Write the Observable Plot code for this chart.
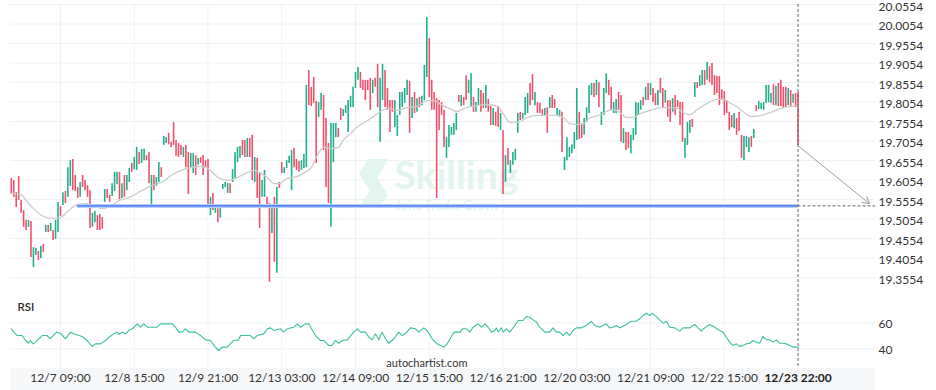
<!DOCTYPE html>
<html><head><meta charset="utf-8">
<script src="https://cdn.jsdelivr.net/npm/d3@7"></script>
<script src="https://cdn.jsdelivr.net/npm/@observablehq/plot@0.6"></script>
<style>
html,body{margin:0;padding:0;background:#fff;}
#chart{position:relative;width:936px;height:390px;font-family:Lato,sans-serif;overflow:hidden;background:#fff;}
#chart svg{position:absolute;left:0;}
#band{position:absolute;left:10px;top:368px;width:865px;height:22px;background:#f6f7f9;}
</style></head><body><div id="chart"><div id="band"></div></div>
<script>
// ---- data (hourly candles, index 0 = first visible hour) ----
const opens = [
19.609,19.604,19.573,19.614,19.553,19.527,19.502,19.484,19.499,19.381,
19.412,19.422,19.404,19.440,19.471,19.489,19.473,19.476,19.453,19.471,
19.537,19.540,19.576,19.561,19.589,19.658,19.617,19.586,19.561,19.617,
19.604,19.591,19.578,19.484,19.496,19.514,19.517,19.509,19.548,19.581,
19.566,19.563,19.576,19.594,19.625,19.558,19.617,19.578,19.599,19.648,
19.632,19.630,19.676,19.648,19.655,19.668,19.676,19.540,19.617,19.589,
19.599,19.637,19.694,19.699,19.725,19.702,19.753,19.707,19.699,19.694,
19.663,19.694,19.676,19.637,19.622,19.668,19.643,19.663,19.668,19.655,
19.658,19.514,19.571,19.520,19.532,19.507,19.581,19.586,19.571,19.596,
19.599,19.609,19.650,19.661,19.707,19.707,19.663,19.712,19.720,19.599,
19.661,19.622,19.561,19.561,19.561,19.545,19.468,19.561,19.366,19.599,
19.650,19.622,19.635,19.648,19.578,19.686,19.658,19.653,19.630,19.635,
19.637,19.886,19.843,19.868,19.807,19.766,19.784,19.822,19.763,19.699,
19.484,19.650,19.714,19.737,19.789,19.768,19.776,19.727,19.791,19.791,
19.840,19.861,19.881,19.861,19.861,19.861,19.866,19.827,19.866,19.902,
19.702,19.809,19.886,19.840,19.809,19.809,19.740,19.717,19.771,19.791,
19.802,19.822,19.858,19.763,19.830,19.779,19.817,19.796,19.809,19.868,
19.968,19.861,19.830,19.814,19.809,19.804,19.784,19.661,19.689,19.720,
19.720,19.732,19.822,19.794,19.817,19.873,19.827,19.791,19.817,19.779,
19.796,19.835,19.827,19.789,19.812,19.794,19.745,19.779,19.791,19.732,
19.732,19.599,19.686,19.622,19.643,19.655,19.725,19.779,19.761,19.771,
19.776,19.853,19.876,19.796,19.804,19.802,19.786,19.768,19.791,19.789,
19.822,19.812,19.771,19.766,19.779,19.630,19.655,19.663,19.673,19.684,
19.707,19.779,19.750,19.720,19.753,19.776,19.822,19.853,19.822,19.855,
19.745,19.771,19.827,19.861,19.843,19.776,19.776,19.830,19.822,19.699,
19.727,19.727,19.673,19.707,19.720,19.771,19.784,19.817,19.809,19.853,
19.822,19.840,19.827,19.796,19.866,19.840,19.802,19.809,19.809,19.779,
19.822,19.809,19.804,19.804,19.661,19.694,19.725,19.761,19.817,19.855,
19.845,19.848,19.886,19.861,19.896,19.904,19.873,19.871,19.871,19.837,
19.832,19.809,19.779,19.771,19.737,19.763,19.779,19.720,19.655,19.689,
19.676,19.717,19.712,19.796,19.786,19.786,19.784,19.802,19.804,19.802,
19.850,19.796,19.853,19.861,19.843,19.843,19.796,19.835,19.802,19.827,
19.830];
const closes = [
19.568,19.561,19.535,19.553,19.520,19.484,19.476,19.502,19.407,19.432,
19.430,19.399,19.435,19.420,19.489,19.471,19.494,19.450,19.502,19.548,
19.512,19.573,19.545,19.637,19.655,19.578,19.576,19.558,19.599,19.586,
19.578,19.561,19.481,19.520,19.525,19.476,19.476,19.479,19.581,19.558,
19.548,19.596,19.625,19.625,19.555,19.596,19.561,19.617,19.635,19.625,
19.663,19.689,19.645,19.684,19.684,19.655,19.596,19.617,19.578,19.612,
19.650,19.612,19.717,19.714,19.696,19.689,19.694,19.666,19.663,19.668,
19.689,19.637,19.568,19.673,19.673,19.617,19.661,19.648,19.617,19.635,
19.540,19.561,19.527,19.535,19.496,19.535,19.594,19.599,19.596,19.571,
19.632,19.676,19.689,19.691,19.668,19.663,19.712,19.663,19.604,19.663,
19.558,19.481,19.604,19.630,19.540,19.343,19.532,19.394,19.586,19.584,
19.622,19.637,19.655,19.666,19.681,19.637,19.630,19.625,19.655,19.671,
19.848,19.796,19.794,19.802,19.648,19.804,19.827,19.681,19.586,19.545,
19.750,19.750,19.750,19.714,19.758,19.786,19.796,19.809,19.820,19.843,
19.881,19.894,19.840,19.835,19.809,19.835,19.784,19.861,19.843,19.791,
19.866,19.902,19.791,19.784,19.727,19.779,19.809,19.771,19.830,19.830,
19.840,19.861,19.725,19.817,19.776,19.814,19.791,19.820,19.899,20.022,
19.817,19.784,19.784,19.558,19.732,19.771,19.689,19.714,19.745,19.740,
19.750,19.776,19.804,19.822,19.796,19.809,19.861,19.878,19.779,19.804,
19.840,19.779,19.789,19.848,19.779,19.745,19.789,19.743,19.740,19.776,
19.568,19.668,19.643,19.655,19.676,19.684,19.776,19.758,19.776,19.817,
19.827,19.796,19.809,19.830,19.776,19.776,19.771,19.789,19.725,19.817,
19.789,19.789,19.789,19.784,19.676,19.663,19.714,19.689,19.696,19.727,
19.840,19.709,19.712,19.763,19.791,19.848,19.853,19.817,19.861,19.791,
19.779,19.840,19.878,19.822,19.784,19.804,19.812,19.784,19.702,19.737,
19.681,19.686,19.720,19.737,19.804,19.802,19.809,19.796,19.843,19.809,
19.853,19.804,19.796,19.835,19.827,19.789,19.835,19.766,19.753,19.814,
19.771,19.791,19.745,19.702,19.712,19.753,19.758,19.740,19.855,19.840,
19.873,19.886,19.848,19.907,19.855,19.848,19.822,19.827,19.796,19.809,
19.771,19.776,19.732,19.740,19.776,19.720,19.730,19.661,19.717,19.717,
19.714,19.689,19.735,19.781,19.807,19.802,19.804,19.848,19.848,19.827,
19.796,19.845,19.794,19.794,19.789,19.791,19.840,19.791,19.825,19.791,
19.693];

// moving average: [candle index, price]
const maIndex = [0,4,6,9,13,17,20,23,27,31,34,37,40,44,48,53,57,61,65,69,73,77,80,84,88,91,95,99,101,104,107,109,112,115,118,122,124,127,130,133,135,138,141,145,149,153,157,161,165,169,172,174,179,181,185,189,193,198,200,203,206,210,214,218,222,225,227,230,233,235,240,243,245,248,250,253,256,260,264,268,271,273,276,279,283,287,290,292,295,298,301,305,309,313,317,320];
const maValue = [19.571,19.568,19.553,19.532,19.512,19.507,19.509,19.525,19.543,19.545,19.537,19.532,19.537,19.553,19.561,19.578,19.591,19.599,19.617,19.630,19.637,19.640,19.635,19.612,19.604,19.609,19.622,19.630,19.625,19.612,19.596,19.596,19.609,19.612,19.620,19.637,19.663,19.689,19.686,19.689,19.707,19.725,19.743,19.758,19.776,19.789,19.784,19.791,19.794,19.809,19.809,19.802,19.786,19.781,19.791,19.796,19.799,19.794,19.776,19.753,19.753,19.766,19.771,19.771,19.771,19.763,19.750,19.748,19.750,19.763,19.773,19.784,19.786,19.776,19.766,19.766,19.776,19.784,19.791,19.791,19.789,19.779,19.773,19.786,19.802,19.812,19.812,19.804,19.794,19.779,19.768,19.771,19.779,19.789,19.794,19.796];

// RSI: [candle index, RSI]
const rsiIndex = [0,1,2.4,4.4,5.8,7.1,7.8,8.8,9.8,11.2,12.6,14.6,15.7,17,18.4,20,22,24.1,25.4,27.5,28.8,30.8,32.9,34.2,36.3,38.3,39.7,41.7,43.1,43.7,45.1,46.4,47.8,49.2,51.2,52.5,53.9,55.3,59.3,60.7,65.4,66.8,68.1,69.5,70.8,72.2,74.9,77,79,81,83,84.4,85.8,87.8,90.5,92.5,93.2,97.3,98.6,100,102.7,104.1,105.4,106.8,109.5,110.8,112.2,114.9,116.3,117.6,119.6,121,123.7,125.7,127.1,129.1,130.5,131.8,133.2,134.6,136.6,139.3,140.7,142,144.1,145.4,146.8,148.1,149.5,150.8,152.2,153.5,155.6,157.6,159,160.3,162.3,164.4,165.7,167.8,169.1,171.2,173.2,174.5,175.9,177.3,180,182.7,183.4,185.1,186.5,187.8,189.8,191.2,192.6,193.9,195.3,196.6,197.3,198,199.3,200,201.4,202.7,204.8,206.1,208.1,209.5,210.9,212.2,213.6,214.9,217,219,220.3,221.7,223,224.4,225.8,227.1,228.5,229.8,231.9,233.9,235.9,237.3,239.3,240.7,242,243.4,244.7,246.1,247.5,249.5,250.8,252.2,254.2,255.6,256.9,258.3,259.7,260.7,262.4,263.7,265.1,266.4,267.8,269.8,271.9,273.2,275.9,278,279.3,280.7,282,284.1,286.1,288.1,289.5,290.8,292.2,293.5,294.9,296.3,297.6,299,300.3,301.7,303,304.4,305.7,307.1,308.5,309.8,311.2,312.5,313.9,315.2,316.6,317.9,320];
const rsiValue = [55.4,52.8,50.2,50.2,46.4,44.3,46.4,43.8,45.1,47.7,50.2,50.2,47.7,50.2,52.8,52.0,47.7,52.8,51.5,50.2,49.5,46.4,41.8,43.8,43.8,46.4,48.9,51.5,52.8,51.0,52.8,51.5,54.1,55.4,59.2,56.6,59.2,56.6,56.6,59.2,59.2,56.6,52.8,52.8,55.4,52.8,52.8,50.2,46.9,46.4,41.3,38.7,41.3,41.3,46.4,46.9,50.2,50.2,47.7,50.2,51.5,55.4,56.1,54.1,55.4,52.8,55.4,56.6,59.2,56.6,59.2,59.2,50.2,46.4,46.4,42.5,42.5,46.4,44.3,46.4,46.9,52.8,55.4,52.8,52.8,48.9,46.9,51.5,46.9,52.8,47.7,44.3,47.7,52.8,50.2,51.5,56.1,55.4,52.8,56.1,54.1,47.7,43.8,42.5,41.3,43.8,52.8,52.8,55.4,55.4,52.8,56.6,59.2,56.6,59.2,56.6,52.8,54.1,56.1,52.8,56.1,52.8,55.4,52.8,57.9,61.8,61.8,64.8,64.3,62.3,60.5,56.6,52.8,52.8,56.1,52.8,52.8,50.2,52.8,50.2,54.1,56.1,56.1,57.9,61.2,57.9,56.6,57.9,59.2,56.1,56.6,57.9,56.1,57.9,59.7,61.2,61.2,63.1,65.6,67.4,65.6,67.4,64.8,62.3,59.7,61.2,56.6,56.1,53.6,56.1,56.1,58.7,56.1,53.6,56.1,58.7,56.6,54.1,52.8,48.9,45.1,42.5,43.8,41.8,42.5,43.8,44.3,46.4,45.1,44.3,49.5,47.0,47.0,45.1,46.9,44.3,44.3,43.8,42.5,41.3,41.3];

const yTickValues = [19.3554,19.4054,19.4554,19.5054,19.5554,19.6054,19.6554,19.7054,19.7554,19.8054,19.8554,19.9054,19.9554,20.0054,20.0554];
const xTickIndex = [20,50,80,110,140,170,200,230,260,290];
const xTickLabels = ["12/7 09:00","12/8 15:00","12/9 21:00","12/13 03:00","12/14 09:00","12/15 15:00","12/16 21:00","12/20 03:00","12/21 09:00","12/22 15:00"];
const currentIndex = 320;
const currentLabel = "12/23 22:00";
const rsiTicks = [40, 60];
const supportLevel = 19.539;
const supportStartIndex = 27;
const forecastEndIndex = 349;
const forecastTarget = 19.545;

// ---- build ----
const GREEN = "#1fb08b", RED = "#f2506a", GRID = "#eef2f7", MINT = "#e2f5ef";
const xDomain = [-0.33, 351.5];
const candles = opens.map((o, i) => ({i, open: o, close: closes[i]}));
const ma = maIndex.map((i, k) => ({i, v: maValue[k]}));
const rsi = rsiIndex.map((i, k) => ({i, v: rsiValue[k]}));
const forecast = [{x1: currentIndex, y1: closes[currentIndex], x2: forecastEndIndex, y2: forecastTarget}];

const main = Plot.plot({
  width: 936, height: 298,
  marginLeft: 10, marginRight: 61, marginTop: 4, marginBottom: 0,
  style: {fontFamily: "Lato, sans-serif", background: "transparent", overflow: "visible"},
  x: {domain: xDomain, axis: null},
  y: {domain: [19.3554, 20.0554], range: [277, 4], axis: null},
  marks: [
    Plot.ruleY(yTickValues, {stroke: GRID}),
    Plot.ruleX(xTickIndex, {stroke: GRID}),
    Plot.text(["Skilling"], {frameAnchor: "top-left", dx: 384, dy: 184, textAnchor: "start", lineAnchor: "bottom", fontSize: 39, fontWeight: 700, fill: MINT}),
    Plot.text(["Join. Trade. Grow."], {frameAnchor: "top-left", dx: 385, dy: 205, textAnchor: "start", lineAnchor: "bottom", fontSize: 13, fontWeight: 700, fill: MINT}),
    Plot.ruleX(candles, {x: "i", y1: "open", y2: "close", stroke: d => d.close >= d.open ? GREEN : RED, strokeWidth: 1.6}),
    Plot.line(ma, {x: "i", y: "v", stroke: "#cccccc", strokeWidth: 1.3, curve: "monotone-x"}),
    Plot.ruleY([supportLevel], {x1: supportStartIndex, x2: currentIndex, stroke: "#b8cdf8", strokeWidth: 4}),
    Plot.ruleY([supportLevel], {x1: supportStartIndex, x2: currentIndex, stroke: "#5a87ef", strokeWidth: 1.8}),
    Plot.ruleY([supportLevel], {x1: currentIndex, x2: xDomain[1], stroke: "#666", strokeWidth: 1, strokeDasharray: "3,2"}),
    Plot.ruleX([currentIndex], {stroke: "#666", strokeWidth: 1, strokeDasharray: "3,2"}),
    Plot.arrow(forecast, {x1: "x1", y1: "y1", x2: "x2", y2: "y2", stroke: "#a0a0a0", strokeWidth: 1, headLength: 11}),
    Plot.axisY(yTickValues, {anchor: "right", label: null, tickSize: 0, tickPadding: 3, tickFormat: d => d.toFixed(4), fontSize: 12, fill: "#333", dy: 2.5})
  ]
});
main.style.top = "0px";

// logo of the watermark, behind the text
const firstText = main.querySelector('[aria-label="text"]');
const logo = document.createElementNS("http://www.w3.org/2000/svg", "path");
logo.setAttribute("d", "M368,159 L388,159 L377,178 L388,195 L379,208 L359,208 L370,191 L359,174 Z");
logo.setAttribute("fill", MINT);
main.insertBefore(logo, firstText);

const lower = Plot.plot({
  width: 936, height: 92,
  marginLeft: 10, marginRight: 61, marginTop: 0, marginBottom: 22,
  style: {fontFamily: "Lato, sans-serif", background: "transparent", overflow: "visible"},
  x: {domain: xDomain, axis: null},
  y: {domain: [40, 60], range: [50.3, 24.3], axis: null},
  marks: [
    Plot.ruleY(rsiTicks, {stroke: GRID}),
    Plot.ruleX(xTickIndex, {stroke: GRID}),
    Plot.line(rsi, {x: "i", y: "v", stroke: "#3cc09e", strokeWidth: 1.1}),
    Plot.ruleX([currentIndex], {stroke: "#666", strokeWidth: 1, strokeDasharray: "3,2"}),
    Plot.text(["RSI"], {frameAnchor: "top-left", dx: 7, dy: 9, textAnchor: "start", lineAnchor: "middle", fontSize: 11.5, fontWeight: 600, fill: "#2a2a2a"}),
    Plot.text(["autochartist.com"], {frameAnchor: "top-left", dx: 457, dy: 65, textAnchor: "end", lineAnchor: "middle", fontSize: 11, fill: "#333"}),
    Plot.axisY(rsiTicks, {anchor: "right", label: null, tickSize: 0, tickPadding: 3, fontSize: 12, fill: "#333", dy: 1.5}),
    Plot.text(xTickIndex, {x: d => d, text: (d, k) => xTickLabels[k], frameAnchor: "bottom", dy: 9.5, lineAnchor: "middle", fontSize: 12, fill: "#333"}),
    Plot.text([currentIndex], {x: d => d, text: [currentLabel], frameAnchor: "bottom", dy: 9.5, lineAnchor: "middle", fontSize: 12, fontWeight: 700, fill: "#222"})
  ]
});
lower.style.top = "298px";

const chart = document.getElementById("chart");
chart.appendChild(main);
chart.appendChild(lower);
</script></body></html>
